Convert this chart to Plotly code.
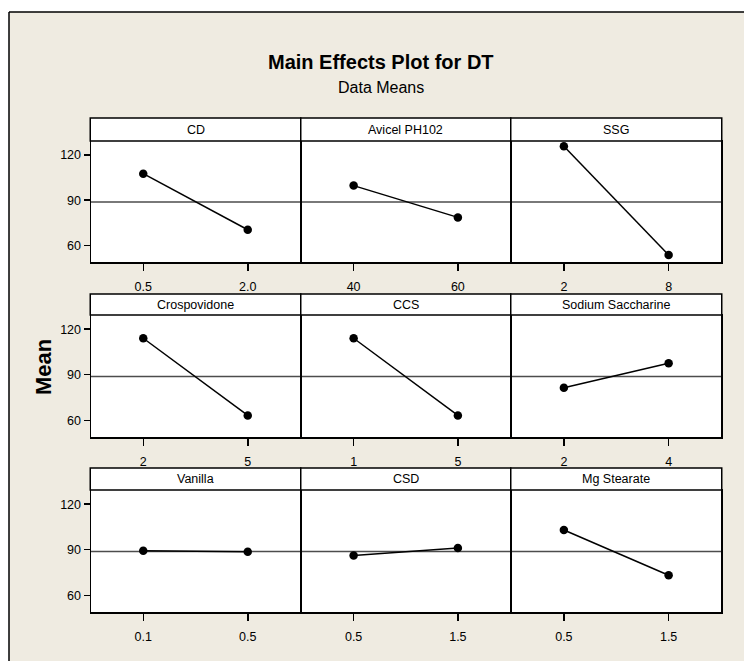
import plotly.graph_objects as go

factors = ["CD", "Avicel PH102", "SSG", "Crospovidone", "CCS",
           "Sodium Saccharine", "Vanilla", "CSD", "Mg Stearate"]
level_low = ["0.5", "40", "2", "2", "1", "2", "0.1", "0.5", "0.5"]
level_high = ["2.0", "60", "8", "5", "5", "4", "0.5", "1.5", "1.5"]
mean_low = [107.6, 99.7, 125.8, 114.0, 114.0, 81.4, 89.3, 86.2, 103.0]
mean_high = [70.4, 78.6, 53.7, 63.2, 63.2, 97.5, 88.7, 91.1, 73.2]
grand_mean = 88.9
y_ticks = [60, 90, 120]

W, H = 744, 661
FONT = "Liberation Sans, Arial, sans-serif"
BEIGE = "#EFEBE1"
col_px = [(91, 300), (301.5, 510), (511.5, 721)]
row_plot_px = [(141, 262), (315, 437), (490, 612)]
row_head_px = [(118, 141), (294, 315), (468, 490)]


def fx(p):
    return p / W


def fy(p):
    return 1 - p / H


fig = go.Figure()
shapes = []
annotations = []

# white strips outside the frame, then the frame line (no right/bottom edge)
shapes.append(dict(type="rect", xref="paper", yref="paper",
                   x0=fx(0), x1=fx(800), y0=fy(12), y1=fy(0),
                   fillcolor="white", line=dict(width=0), layer="below"))
shapes.append(dict(type="rect", xref="paper", yref="paper",
                   x0=fx(0), x1=fx(9), y0=fy(700), y1=fy(0),
                   fillcolor="white", line=dict(width=0), layer="below"))
shapes.append(dict(type="line", xref="paper", yref="paper",
                   x0=fx(9), x1=fx(800), y0=fy(12), y1=fy(12),
                   line=dict(color="black", width=1.5)))
shapes.append(dict(type="line", xref="paper", yref="paper",
                   x0=fx(9), x1=fx(9), y0=fy(12), y1=fy(700),
                   line=dict(color="black", width=1.5)))

for i, name in enumerate(factors):
    r, c = divmod(i, 3)
    k = i + 1
    xa = "x" if k == 1 else f"x{k}"
    ya = "y" if k == 1 else f"y{k}"
    fig.add_trace(go.Scatter(
        x=[0, 1], y=[mean_low[i], mean_high[i]], xaxis=xa, yaxis=ya,
        mode="lines+markers", line=dict(color="black", width=1.5),
        marker=dict(color="black", size=8.5), showlegend=False,
        hoverinfo="skip"))
    x0p, x1p = col_px[c]
    y0p, y1p = row_plot_px[r]
    xkey = "xaxis" if k == 1 else f"xaxis{k}"
    ykey = "yaxis" if k == 1 else f"yaxis{k}"
    fig.layout[xkey] = dict(
        domain=[fx(x0p), fx(x1p)], anchor=ya, range=[-0.5, 1.5],
        tickvals=[0, 1], ticktext=[level_low[i], level_high[i]],
        ticks="outside", ticklen=7, tickwidth=1.5, tickcolor="black",
        showline=True, mirror=True, linecolor="black", linewidth=1.5,
        showgrid=False, zeroline=False, fixedrange=True,
        tickfont=dict(family=FONT, size=12.5, color="black"),
        ticklabelstandoff=5)
    yax = dict(
        domain=[fy(y1p), fy(y0p)], anchor=xa, range=[49.0, 129.3],
        tickvals=y_ticks, showline=True, mirror=True, linecolor="black",
        linewidth=1.5, showgrid=False, zeroline=False, fixedrange=True,
        tickfont=dict(family=FONT, size=12.5, color="black"))
    if c == 0:
        yax.update(ticks="outside", ticklen=6, tickwidth=1.5,
                   tickcolor="black", showticklabels=True)
    else:
        yax.update(ticks="", showticklabels=False)
    fig.layout[ykey] = yax
    # reference line at grand mean
    shapes.append(dict(type="line", xref=f"{xa} domain", yref=ya,
                       x0=0, x1=1, y0=grand_mean, y1=grand_mean,
                       line=dict(color="#4d4d4d", width=1.5), layer="below"))
    # header strip
    h0, h1 = row_head_px[r]
    shapes.append(dict(type="rect", xref="paper", yref="paper",
                       x0=fx(x0p - 0.75), x1=fx(x1p + 0.75), y0=fy(h1), y1=fy(h0),
                       fillcolor="white", line=dict(color="black", width=1.5)))
    annotations.append(dict(text=name, xref="paper", yref="paper",
                            x=fx((x0p + x1p) / 2), y=fy((h0 + h1) / 2),
                            xanchor="center", yanchor="middle", showarrow=False,
                            font=dict(family=FONT, size=12.5, color="black")))

annotations.append(dict(text="<b>Main Effects Plot for DT</b>", xref="paper", yref="paper",
                        x=fx(381), y=fy(62), xanchor="center", yanchor="middle",
                        showarrow=False, font=dict(family=FONT, size=20, color="black")))
annotations.append(dict(text="Data Means", xref="paper", yref="paper",
                        x=fx(381), y=fy(88), xanchor="center", yanchor="middle",
                        showarrow=False, font=dict(family=FONT, size=16, color="black")))
annotations.append(dict(text="<b>Mean</b>", xref="paper", yref="paper",
                        x=fx(43), y=fy(367), xanchor="center", yanchor="middle",
                        textangle=-90, showarrow=False,
                        font=dict(family=FONT, size=22, color="black")))

fig.update_layout(width=W, height=H, autosize=False,
                  margin=dict(l=0, r=0, t=0, b=0),
                  paper_bgcolor=BEIGE, plot_bgcolor="white",
                  hovermode=False,
                  shapes=shapes, annotations=annotations)

fig.write_html("out.html",
               config={"displayModeBar": False, "staticPlot": True},
               post_script="document.body.style.margin='0';document.body.style.overflow='hidden';")
